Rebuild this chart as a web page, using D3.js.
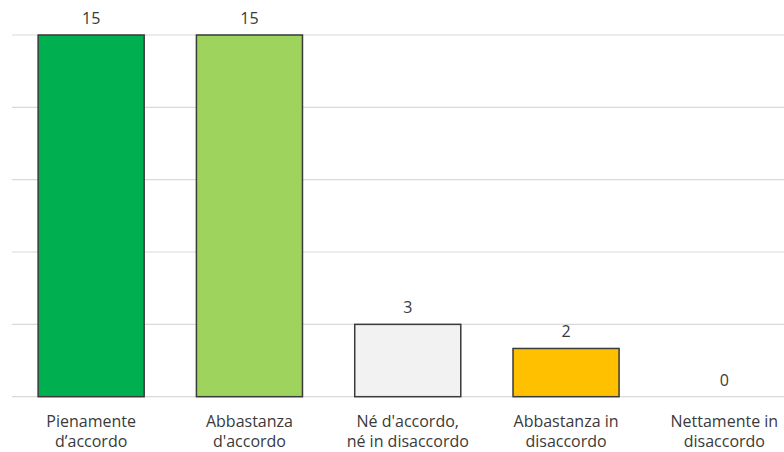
<!DOCTYPE html>
<html>
<head>
<meta charset="utf-8">
<script src="https://cdn.jsdelivr.net/npm/d3@7"></script>
<style>
  html, body { margin: 0; padding: 0; background: #ffffff; }
  svg { display: block; }
  text { font-family: "Open Sans", "Noto Sans", sans-serif; fill: #3a3a3a; }
</style>
</head>
<body>
<svg id="chart" width="784" height="452"></svg>
<script>
// Survey responses: count per answer
const categories = [
  ["Pienamente", "d’accordo"],
  ["Abbastanza", "d'accordo"],
  ["Né d'accordo,", "né in disaccordo"],
  ["Abbastanza in", "disaccordo"],
  ["Nettamente in", "disaccordo"]
];
const values = [15, 15, 3, 2, 0];
const colors = ["#00b050", "#9ed35e", "#f2f2f2", "#ffc000", "#c00000"];
const gridTicks = [0, 3, 6, 9, 12, 15];

const rows = values.map((v, i) => ({ i, v, label: categories[i], color: colors[i] }));

const svg = d3.select("#chart");
const W = 784;

const x = d3.scaleBand()
  .domain(d3.range(categories.length))
  .range([12, 803.5])
  .paddingInner(0.33)
  .paddingOuter(0.165);

const y = d3.scaleLinear()
  .domain([0, 15])
  .range([396.7, 35]);

const cx = i => x(i) + x.bandwidth() / 2;

// horizontal gridlines
svg.append("g")
  .selectAll("line")
  .data(gridTicks)
  .join("line")
  .attr("x1", 12)
  .attr("x2", W)
  .attr("y1", d => y(d))
  .attr("y2", d => y(d))
  .attr("stroke", "#d9d9d9")
  .attr("stroke-width", 1.2);

// bars (zero-height answers draw nothing)
svg.append("g")
  .selectAll("rect")
  .data(rows.filter(d => d.v > 0))
  .join("rect")
  .attr("x", d => x(d.i))
  .attr("y", d => y(d.v))
  .attr("width", x.bandwidth())
  .attr("height", d => y(0) - y(d.v))
  .attr("fill", d => d.color)
  .attr("stroke", "#3a3a3a")
  .attr("stroke-width", 1.5);

// value labels
svg.append("g")
  .selectAll("text")
  .data(rows)
  .join("text")
  .attr("x", d => cx(d.i))
  .attr("y", d => y(d.v) - 11)
  .attr("text-anchor", "middle")
  .attr("font-size", 16)
  .text(d => d.v);

// category labels (two lines)
const cat = svg.append("g")
  .selectAll("text")
  .data(rows)
  .join("text")
  .attr("x", d => cx(d.i))
  .attr("y", 427)
  .attr("text-anchor", "middle")
  .attr("font-size", 16);
cat.selectAll("tspan")
  .data(d => d.label.map(t => ({ t, x: cx(d.i) })))
  .join("tspan")
  .attr("x", d => d.x)
  .attr("dy", (d, j) => j === 0 ? 0 : 20)
  .text(d => d.t);
</script>
</body>
</html>
